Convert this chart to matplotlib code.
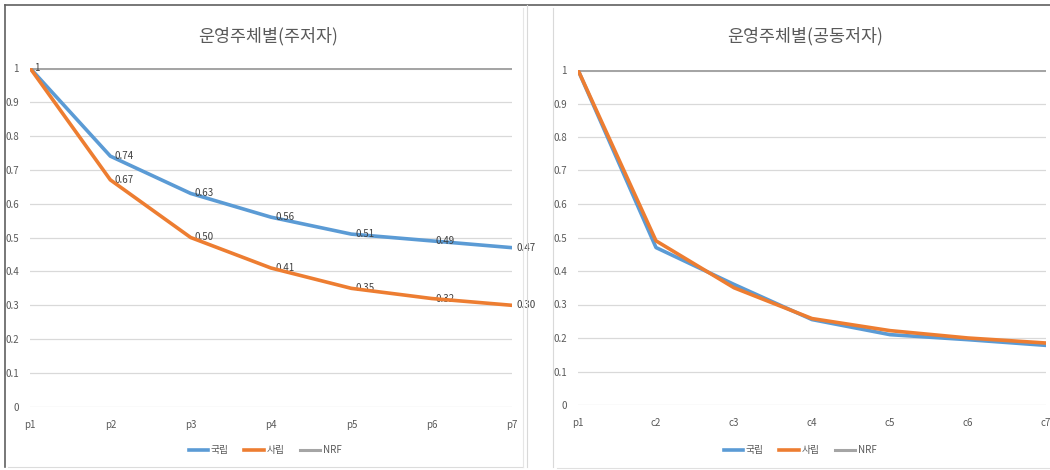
import numpy as np
import matplotlib.pyplot as plt
from matplotlib.lines import Line2D

plt.rcParams['font.family'] = ['Noto Sans CJK KR', 'DejaVu Sans']

# data
left_cats = ['p1', 'p2', 'p3', 'p4', 'p5', 'p6', 'p7']
right_cats = ['p1', 'c2', 'c3', 'c4', 'c5', 'c6', 'c7']
left_national = [1.0, 0.74, 0.63, 0.56, 0.51, 0.49, 0.47]
left_private = [1.0, 0.67, 0.50, 0.41, 0.35, 0.32, 0.30]
right_national = [1.0, 0.47, 0.36, 0.255, 0.21, 0.195, 0.178]
right_private = [1.0, 0.49, 0.35, 0.258, 0.222, 0.20, 0.185]
nrf = [1, 1, 1, 1, 1, 1, 1]
series_names = ['국립', '사립', 'NRF']
titles = ['운영주체별(주저자)', '운영주체별(공동저자)']

BLUE = '#5b9bd5'
ORANGE = '#ed7d31'
GRAY = '#a5a5a5'
TXT = '#595959'

fig = plt.figure(figsize=(10.5, 4.7), dpi=100)


def fig_line(xs, ys, color, lw):
    # xs, ys in pixels (y from top)
    fig.add_artist(Line2D([v / 1050 for v in xs], [1 - v / 470 for v in ys],
                          color=color, lw=lw, transform=fig.transFigure))


# chart frames
fig_line([5, 1050], [5, 5], '#606060', 1.2)
fig_line([5, 5], [5, 467], '#606060', 1.2)
fig_line([8, 523], [467, 467], '#dcdcdc', 0.8)
fig_line([523, 523], [8, 467], '#e6e6e6', 0.8)
fig_line([527, 527], [5, 467], '#d9d9d9', 0.8)
fig_line([553, 553], [8, 467], '#d9d9d9', 0.8)
fig_line([557, 1050], [468, 468], '#e0e0e0', 0.8)


def draw_panel(rect, cats, nat, pri, title, title_x, legend_x, labels):
    ax = fig.add_axes(rect)
    x = np.arange(len(cats))
    ax.plot(x, nrf, color=GRAY, lw=2.2, zorder=2, solid_capstyle='butt')
    ax.plot(x, nat, color=BLUE, lw=2.6, zorder=3)
    ax.plot(x, pri, color=ORANGE, lw=2.6, zorder=4)
    ax.set_xlim(0, len(cats) - 1)
    ax.set_ylim(0, 1)
    ax.set_yticks(np.arange(0, 1.01, 0.1))
    ax.set_yticklabels(['0'] + ['%.1f' % v for v in np.arange(0.1, 0.95, 0.1)] + ['1'])
    ax.set_xticks(x)
    ax.set_xticklabels(cats)
    ax.grid(axis='y', color='#d9d9d9', lw=0.9)
    ax.set_axisbelow(True)
    for s in ax.spines.values():
        s.set_visible(False)
    ax.tick_params(length=0, labelsize=7, colors=TXT, pad=8)
    ax.tick_params(axis='x', pad=9)
    if labels:
        for xi, v in zip(x[1:], nat[1:]):
            ax.annotate('%.2f' % v, (xi, v), xytext=(3, 0), textcoords='offset points',
                        fontsize=7, color='#404040', va='center', ha='left')
        for xi, v in zip(x[1:], pri[1:]):
            ax.annotate('%.2f' % v, (xi, v), xytext=(3, 0), textcoords='offset points',
                        fontsize=7, color='#404040', va='center', ha='left')
        ax.annotate('1', (0, 1), xytext=(3, 0), textcoords='offset points',
                    fontsize=7, color='#404040', va='center', ha='left')
    fig.text(title_x, 1 - 36 / 470, title, ha='center', va='center', fontsize=12.5, color=TXT)
    handles = [Line2D([], [], color=BLUE, lw=2.6), Line2D([], [], color=ORANGE, lw=2.6),
               Line2D([], [], color=GRAY, lw=2.2)]
    fig.legend(handles, series_names, loc='center', bbox_to_anchor=(legend_x, 1 - 450 / 470),
               ncol=3, frameon=False, fontsize=7, handlelength=2.0, handletextpad=0.3,
               columnspacing=1.6, labelcolor=TXT)
    return ax


draw_panel([30 / 1050, 1 - 407 / 470, 482 / 1050, 339 / 470], left_cats,
           left_national, left_private, titles[0], 268 / 1050, 265 / 1050, True)
draw_panel([578 / 1050, 1 - 405 / 470, 468 / 1050, 335 / 470], right_cats,
           right_national, right_private, titles[1], 805 / 1050, 800 / 1050, False)

fig.savefig('out.png', dpi=100, facecolor='white')
